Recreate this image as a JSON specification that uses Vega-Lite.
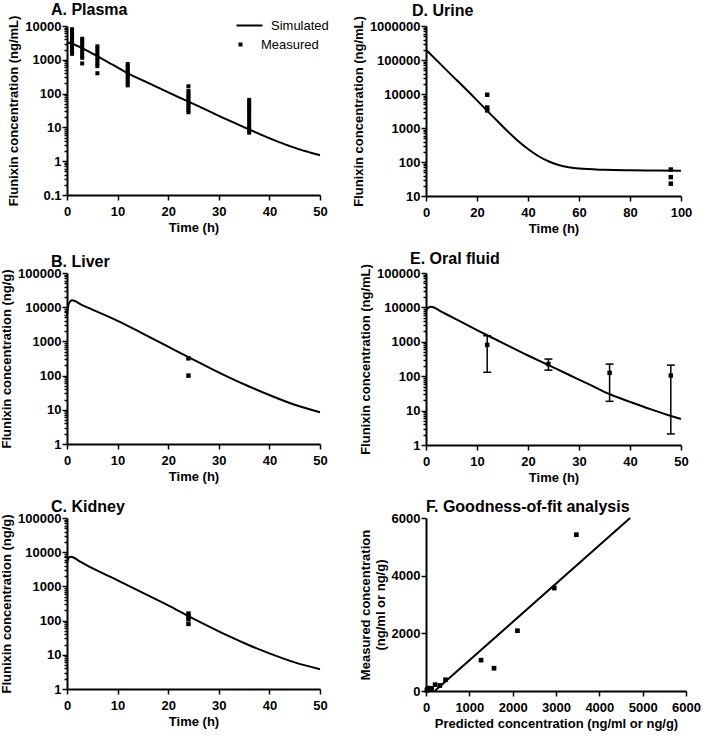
{
  "$schema": "https://vega.github.io/schema/vega-lite/v6.json",
  "padding": {"left": 0, "top": 2, "right": 3, "bottom": 2},
  "background": "white",
  "config": {
    "font": "Liberation Sans",
    "view": {"stroke": null},
    "axis": {"domainColor": "black", "domainWidth": 2, "tickColor": "black", "tickWidth": 1.5, "tickSize": 5, "labelColor": "black", "labelFont": "Liberation Sans", "labelFontSize": 13, "labelFontWeight": "bold", "titleFont": "Liberation Sans", "titleFontSize": 13, "titleFontWeight": "bold", "titleColor": "black", "grid": false, "labelOverlap": false, "labelFlush": false},
    "axisX": {"labelPadding": 5, "titlePadding": 3},
    "axisY": {"labelPadding": 1, "titlePadding": 4},
    "title": {"anchor": "start", "fontSize": 16, "fontWeight": "bold", "font": "Liberation Sans", "frame": "group", "dx": -16, "offset": -3, "color": "black"}
  },
  "datasets": {
    "plasmaSim": [{"t":0,"c":3300},{"t":1,"c":3000},{"t":2,"c":2600},{"t":4,"c":1850},{"t":6,"c":1280},{"t":8,"c":870},{"t":10,"c":590},{"t":12,"c":400},{"t":15,"c":245},{"t":18,"c":151},{"t":21,"c":93},{"t":24,"c":58},{"t":27,"c":36},{"t":30,"c":22},{"t":33,"c":13.8},{"t":36,"c":8.7},{"t":40,"c":4.8},{"t":45,"c":2.5},{"t":50,"c":1.5}],
    "plasmaObs": [
      {"t":1,"c":8000},{"t":1,"c":7000},{"t":1,"c":6000},{"t":1,"c":5000},{"t":1,"c":4200},{"t":1,"c":3600},{"t":1,"c":3000},{"t":1,"c":2500},{"t":1,"c":2100},{"t":1,"c":1800},{"t":1,"c":1500},
      {"t":3,"c":4200},{"t":3,"c":3600},{"t":3,"c":3000},{"t":3,"c":2500},{"t":3,"c":2100},{"t":3,"c":1700},{"t":3,"c":1400},{"t":3,"c":1150},{"t":3,"c":780},
      {"t":6,"c":2500},{"t":6,"c":2100},{"t":6,"c":1700},{"t":6,"c":1400},{"t":6,"c":1150},{"t":6,"c":950},{"t":6,"c":780},{"t":6,"c":650},{"t":6,"c":400},
      {"t":12,"c":750},{"t":12,"c":650},{"t":12,"c":560},{"t":12,"c":480},{"t":12,"c":410},{"t":12,"c":350},{"t":12,"c":300},{"t":12,"c":250},{"t":12,"c":210},{"t":12,"c":175},
      {"t":24,"c":165},{"t":24,"c":120},{"t":24,"c":100},{"t":24,"c":85},{"t":24,"c":72},{"t":24,"c":62},{"t":24,"c":53},{"t":24,"c":45},{"t":24,"c":38},{"t":24,"c":32},{"t":24,"c":28},
      {"t":36,"c":65},{"t":36,"c":55},{"t":36,"c":45},{"t":36,"c":38},{"t":36,"c":32},{"t":36,"c":27},{"t":36,"c":22},{"t":36,"c":18},{"t":36,"c":15},{"t":36,"c":12},{"t":36,"c":10},{"t":36,"c":8.5},{"t":36,"c":7}
    ],
    "liverSim": [{"t":0,"c":6000},{"t":0.3,"c":12000},{"t":1,"c":16000},{"t":3,"c":11500},{"t":5,"c":8500},{"t":10,"c":4000},{"t":15,"c":1700},{"t":20,"c":700},{"t":24,"c":345},{"t":28,"c":174},{"t":32,"c":89},{"t":36,"c":48},{"t":40,"c":27},{"t":45,"c":14},{"t":50,"c":8.5}],
    "liverObs": [{"t":24,"c":320},{"t":24,"c":100}],
    "kidneySim": [{"t":0,"c":5000},{"t":0.3,"c":6800},{"t":0.8,"c":7300},{"t":2.5,"c":5400},{"t":5,"c":3400},{"t":10,"c":1500},{"t":15,"c":650},{"t":20,"c":280},{"t":24,"c":136},{"t":28,"c":68},{"t":32,"c":35},{"t":36,"c":19},{"t":40,"c":11},{"t":45,"c":6},{"t":50,"c":3.8}],
    "kidneyObs": [{"t":24,"c":160},{"t":24,"c":135},{"t":24,"c":110},{"t":24,"c":80}],
    "urineSim": [{"t":0,"c":200000},{"t":5,"c":85000},{"t":10,"c":36000},{"t":15,"c":15500},{"t":20,"c":6500},{"t":24,"c":3200},{"t":28,"c":1600},{"t":32,"c":800},{"t":36,"c":420},{"t":40,"c":240},{"t":44,"c":150},{"t":48,"c":105},{"t":52,"c":82},{"t":56,"c":70},{"t":60,"c":64},{"t":70,"c":59},{"t":80,"c":57},{"t":90,"c":56},{"t":100,"c":55}],
    "urineObs": [{"t":24,"c":9500},{"t":24,"c":4000},{"t":24,"c":3300},{"t":96,"c":60},{"t":96,"c":36},{"t":96,"c":23}],
    "oralSim": [{"t":0,"c":8000},{"t":0.5,"c":10000},{"t":1,"c":10500},{"t":3,"c":7500},{"t":5,"c":5300},{"t":10,"c":2200},{"t":12,"c":1550},{"t":15,"c":930},{"t":20,"c":400},{"t":24,"c":210},{"t":28,"c":110},{"t":32,"c":58},{"t":36,"c":30},{"t":40,"c":18},{"t":44,"c":11},{"t":48,"c":7},{"t":50,"c":5.7}],
    "oralObs": [{"t":12,"c":810,"lo":130,"hi":1500},{"t":24,"c":225,"lo":150,"hi":315},{"t":36,"c":125,"lo":18.6,"hi":225},{"t":48,"c":105,"lo":2.1,"hi":210}],
    "gofLine": [{"p":200,"m":0},{"p":4710,"m":6000}],
    "gofObs": [{"p":3470,"m":5420},{"p":2960,"m":3570},{"p":2110,"m":2090},{"p":1270,"m":1070},{"p":1570,"m":790},{"p":450,"m":390},{"p":320,"m":190},{"p":210,"m":220},{"p":130,"m":90},{"p":100,"m":60},{"p":60,"m":100},{"p":30,"m":60},{"p":20,"m":20}]
  },
  "resolve": {"scale": {"shape": "independent", "strokeDash": "independent"}, "legend": {"shape": "independent", "strokeDash": "independent"}},
  "columns": 2,
  "spacing": {"row": 15, "column": 23},
  "concat": [
    {
      "title": {"text": "A. Plasma"},
      "width": 253, "height": 169,
      "layer": [
        {
          "data": {"name": "plasmaSim"},
          "mark": {"type": "line", "color": "black", "strokeWidth": 2, "interpolate": "monotone"},
          "encoding": {
            "x": {"field": "t", "type": "quantitative", "scale": {"domain": [0, 50]}, "axis": {"values": [0,10,20,30,40,50], "title": "Time (h)"}},
            "y": {"field": "c", "type": "quantitative", "scale": {"type": "log", "domain": [0.1, 10000]}, "axis": {"title": "Flunixin concentration (ng/mL)", "values": [0.1,0.2,0.3,0.4,0.5,0.6,0.7,0.8,0.9,1,2,3,4,5,6,7,8,9,10,20,30,40,50,60,70,80,90,100,200,300,400,500,600,700,800,900,1000,2000,3000,4000,5000,6000,7000,8000,9000,10000], "labelExpr": "abs(log(datum.value)/LN10 - round(log(datum.value)/LN10)) < 0.001 ? '' + datum.value : ''", "tickSize": {"condition": {"test": "abs(log(datum.value)/LN10 - round(log(datum.value)/LN10)) < 0.001", "value": 5}, "value": 3}}},
            "strokeDash": {"datum": "Simulated", "type": "nominal", "scale": {"domain": ["Simulated"], "range": [[1, 0]]},
              "legend": {"title": null, "orient": "none", "legendX": 176, "legendY": -7, "padding": 0, "labelFontSize": 13, "labelFont": "Liberation Sans", "labelColor": "black", "labelOffset": 15, "symbolSize": 4, "symbolType": "M-13,0H13", "symbolStrokeColor": "black", "symbolStrokeWidth": 2}}
          }
        },
        {
          "data": {"name": "plasmaObs"},
          "mark": {"type": "point", "filled": true, "color": "black", "size": 16, "opacity": 1},
          "encoding": {
            "x": {"field": "t", "type": "quantitative"},
            "y": {"field": "c", "type": "quantitative"},
            "shape": {"datum": "Measured", "type": "nominal", "scale": {"domain": ["Measured"], "range": ["square"]},
              "legend": {"title": null, "orient": "none", "legendX": 167, "legendY": 12, "padding": 0, "labelFontSize": 13, "labelFont": "Liberation Sans", "labelColor": "black", "labelOffset": 14, "symbolSize": 16, "symbolFillColor": "black", "symbolOpacity": 1}}
          }
        }
      ]
    },
    {
      "title": {"text": "D. Urine", "dx": -14},
      "width": 255, "height": 170,
      "layer": [
        {
          "data": {"name": "urineSim"},
          "mark": {"type": "line", "color": "black", "strokeWidth": 2, "interpolate": "monotone"},
          "encoding": {
            "x": {"field": "t", "type": "quantitative", "scale": {"domain": [0, 100]}, "axis": {"values": [0,20,40,60,80,100], "title": "Time (h)"}},
            "y": {"field": "c", "type": "quantitative", "scale": {"type": "log", "domain": [10, 1000000]}, "axis": {"title": "Flunixin concentration (ng/mL)", "values": [10,20,30,40,50,60,70,80,90,100,200,300,400,500,600,700,800,900,1000,2000,3000,4000,5000,6000,7000,8000,9000,10000,20000,30000,40000,50000,60000,70000,80000,90000,100000,200000,300000,400000,500000,600000,700000,800000,900000,1000000], "labelExpr": "abs(log(datum.value)/LN10 - round(log(datum.value)/LN10)) < 0.001 ? '' + datum.value : ''", "tickSize": {"condition": {"test": "abs(log(datum.value)/LN10 - round(log(datum.value)/LN10)) < 0.001", "value": 5}, "value": 3}}}
          }
        },
        {
          "data": {"name": "urineObs"},
          "mark": {"type": "point", "filled": true, "color": "black", "size": 20, "shape": "square", "opacity": 1},
          "encoding": {"x": {"field": "t", "type": "quantitative"}, "y": {"field": "c", "type": "quantitative"}}
        }
      ]
    },
    {
      "title": {"text": "B. Liver"},
      "width": 253, "height": 171,
      "layer": [
        {
          "data": {"name": "liverSim"},
          "mark": {"type": "line", "color": "black", "strokeWidth": 2, "interpolate": "monotone"},
          "encoding": {
            "x": {"field": "t", "type": "quantitative", "scale": {"domain": [0, 50]}, "axis": {"values": [0,10,20,30,40,50], "title": "Time (h)"}},
            "y": {"field": "c", "type": "quantitative", "scale": {"type": "log", "domain": [1, 100000]}, "axis": {"title": "Flunixin concentration (ng/g)", "values": [1,2,3,4,5,6,7,8,9,10,20,30,40,50,60,70,80,90,100,200,300,400,500,600,700,800,900,1000,2000,3000,4000,5000,6000,7000,8000,9000,10000,20000,30000,40000,50000,60000,70000,80000,90000,100000], "labelExpr": "abs(log(datum.value)/LN10 - round(log(datum.value)/LN10)) < 0.001 ? '' + datum.value : ''", "tickSize": {"condition": {"test": "abs(log(datum.value)/LN10 - round(log(datum.value)/LN10)) < 0.001", "value": 5}, "value": 3}}}
          }
        },
        {
          "data": {"name": "liverObs"},
          "mark": {"type": "point", "filled": true, "color": "black", "size": 20, "shape": "square", "opacity": 1},
          "encoding": {"x": {"field": "t", "type": "quantitative"}, "y": {"field": "c", "type": "quantitative"}}
        }
      ]
    },
    {
      "title": {"text": "E. Oral fluid"},
      "width": 255, "height": 172,
      "layer": [
        {
          "data": {"name": "oralSim"},
          "mark": {"type": "line", "color": "black", "strokeWidth": 2, "interpolate": "monotone"},
          "encoding": {
            "x": {"field": "t", "type": "quantitative", "scale": {"domain": [0, 50]}, "axis": {"values": [0,10,20,30,40,50], "title": "Time (h)"}},
            "y": {"field": "c", "type": "quantitative", "scale": {"type": "log", "domain": [1, 100000]}, "axis": {"title": "Flunixin concentration (ng/mL)", "values": [1,2,3,4,5,6,7,8,9,10,20,30,40,50,60,70,80,90,100,200,300,400,500,600,700,800,900,1000,2000,3000,4000,5000,6000,7000,8000,9000,10000,20000,30000,40000,50000,60000,70000,80000,90000,100000], "labelExpr": "abs(log(datum.value)/LN10 - round(log(datum.value)/LN10)) < 0.001 ? '' + datum.value : ''", "tickSize": {"condition": {"test": "abs(log(datum.value)/LN10 - round(log(datum.value)/LN10)) < 0.001", "value": 5}, "value": 3}}}
          }
        },
        {
          "data": {"name": "oralObs"},
          "mark": {"type": "rule", "color": "black", "strokeWidth": 1.5},
          "encoding": {"x": {"field": "t", "type": "quantitative"}, "y": {"field": "lo", "type": "quantitative"}, "y2": {"field": "hi"}}
        },
        {
          "data": {"name": "oralObs"},
          "mark": {"type": "tick", "orient": "horizontal", "color": "black", "size": 8, "thickness": 1.5, "opacity": 1},
          "encoding": {"x": {"field": "t", "type": "quantitative"}, "y": {"field": "lo", "type": "quantitative"}}
        },
        {
          "data": {"name": "oralObs"},
          "mark": {"type": "tick", "orient": "horizontal", "color": "black", "size": 8, "thickness": 1.5, "opacity": 1},
          "encoding": {"x": {"field": "t", "type": "quantitative"}, "y": {"field": "hi", "type": "quantitative"}}
        },
        {
          "data": {"name": "oralObs"},
          "mark": {"type": "point", "filled": true, "color": "black", "size": 20, "shape": "square", "opacity": 1},
          "encoding": {"x": {"field": "t", "type": "quantitative"}, "y": {"field": "c", "type": "quantitative"}}
        }
      ]
    },
    {
      "title": {"text": "C. Kidney"},
      "width": 253, "height": 171,
      "layer": [
        {
          "data": {"name": "kidneySim"},
          "mark": {"type": "line", "color": "black", "strokeWidth": 2, "interpolate": "monotone"},
          "encoding": {
            "x": {"field": "t", "type": "quantitative", "scale": {"domain": [0, 50]}, "axis": {"values": [0,10,20,30,40,50], "title": "Time (h)"}},
            "y": {"field": "c", "type": "quantitative", "scale": {"type": "log", "domain": [1, 100000]}, "axis": {"title": "Flunixin concentration (ng/g)", "values": [1,2,3,4,5,6,7,8,9,10,20,30,40,50,60,70,80,90,100,200,300,400,500,600,700,800,900,1000,2000,3000,4000,5000,6000,7000,8000,9000,10000,20000,30000,40000,50000,60000,70000,80000,90000,100000], "labelExpr": "abs(log(datum.value)/LN10 - round(log(datum.value)/LN10)) < 0.001 ? '' + datum.value : ''", "tickSize": {"condition": {"test": "abs(log(datum.value)/LN10 - round(log(datum.value)/LN10)) < 0.001", "value": 5}, "value": 3}}}
          }
        },
        {
          "data": {"name": "kidneyObs"},
          "mark": {"type": "point", "filled": true, "color": "black", "size": 20, "shape": "square", "opacity": 1},
          "encoding": {"x": {"field": "t", "type": "quantitative"}, "y": {"field": "c", "type": "quantitative"}}
        }
      ]
    },
    {
      "title": {"text": "F. Goodness-of-fit analysis", "dx": 0},
      "width": 260, "height": 173,
      "layer": [
        {
          "data": {"name": "gofLine"},
          "mark": {"type": "line", "color": "black", "strokeWidth": 2},
          "encoding": {
            "x": {"field": "p", "type": "quantitative", "scale": {"domain": [0, 6000]}, "axis": {"values": [0,1000,2000,3000,4000,5000,6000], "format": "d", "title": "Predicted concentration (ng/ml or ng/g)"}},
            "y": {"field": "m", "type": "quantitative", "scale": {"domain": [0, 6000]}, "axis": {"values": [0,1000,2000,3000,4000,5000,6000], "format": "d", "title": ["Measured concentration", "(ng/ml or ng/g)"]}}
          }
        },
        {
          "data": {"name": "gofObs"},
          "mark": {"type": "point", "filled": true, "color": "black", "size": 22, "shape": "square", "opacity": 1},
          "encoding": {"x": {"field": "p", "type": "quantitative"}, "y": {"field": "m", "type": "quantitative"}}
        }
      ]
    }
  ]
}
